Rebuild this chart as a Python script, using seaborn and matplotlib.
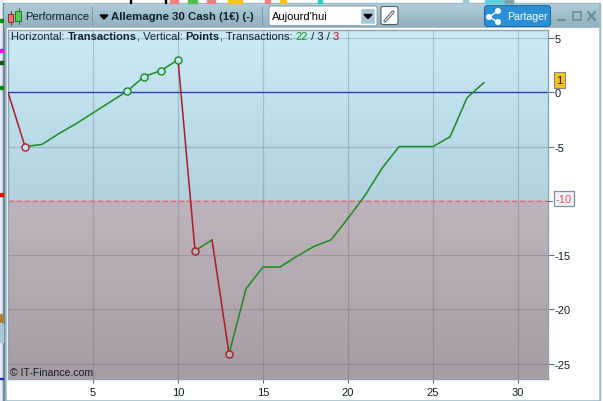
import matplotlib
matplotlib.use("Agg")
import matplotlib.pyplot as plt
from matplotlib.colors import LinearSegmentedColormap
from matplotlib.patches import Rectangle, FancyBboxPatch, Polygon, Circle
import numpy as np
import pandas as pd
import seaborn as sns

# equity curve
transactions = list(range(0, 29))
points = [0, -5, -4.8, -3.8, -2.9, -1.9, -0.9, 0.1, 1.45, 2, 3, -14.6, -13.6, -24.1, -18.1,
          -16.1, -16.1, -15.1, -14.2, -13.6, -11.6, -9.5, -7, -5, -5, -5, -4.1, -0.5, 0.9]
green_marks = [7, 8, 9, 10]
red_marks = [1, 11, 13]
x_ticks = [5, 10, 15, 20, 25, 30]
y_ticks = [5, 0, -5, -15, -20, -25]
threshold = -10

W, H = 603, 402
GREEN = "#1c8a24"
RED = "#a81c28"
INK = "#10202c"

sns.set_theme(style="white")
plt.rcParams["font.family"] = ["Liberation Sans", "DejaVu Sans"]

fig = plt.figure(figsize=(W / 100, H / 100), dpi=100, facecolor="white")


def box(l, t, r, b):
    return [l / W, 1 - b / H, (r - l) / W, (b - t) / H]


# window chrome drawn in pixel coordinates
bg = fig.add_axes([0, 0, 1, 1], zorder=0)
bg.axis("off")
bg.add_patch(Rectangle((0, 0), 3, H, color="#e6ecf8"))
bg.add_patch(Rectangle((3, 4), 597, 398, color="#9dbcc9", zorder=1))
bg.add_patch(Rectangle((3, 4), 1, 398, color="#6f8a98", zorder=1))
bg.imshow(np.linspace(0, 1, 30)[:, None], extent=(4, 599, 29, 5), aspect="auto",
          cmap=LinearSegmentedColormap.from_list("bar", ["#b0ccd8", "#8fb0bf"]), zorder=1)
bg.add_patch(Rectangle((7, 29), 591, 371, color="white", zorder=1))
bg.set_xlim(0, W)
bg.set_ylim(H, 0)

# bits of the chart behind the window
for y, c in [(21, "#0a8a0a"), (51, "#ff00ff"), (63, "#0a5a0a"), (88, "#0a8a0a"), (195, "#ff0000")]:
    bg.add_patch(Rectangle((0, y - 1), 3, 2.5, color=c, zorder=2))
bg.add_patch(Rectangle((0, 315), 3, 8, color="#b08040", zorder=2))
bg.add_patch(Rectangle((0, 325), 3, 18, color="#a9c6d3", zorder=2))
bg.add_patch(Rectangle((0, 379), 3, 1, color="#2030b0", zorder=2))
for x, w, c in [(130, 1, "black"), (165, 1, "black"), (170, 8, "#f08080"), (188, 9, "#50c050"),
                (207, 8, "#f08080"), (228, 14, "#f5c518"), (265, 5, "#f08080"), (280, 6, "#f5c518"),
                (318, 4, "#30c8c8"), (463, 5, "#a0c8d0"), (485, 28, "#60d0d8"), (505, 8, "#80a0a8")]:
    bg.add_patch(Rectangle((x, 0), w, 4, color=c, zorder=2))

# candle icon
bg.plot([10.5, 10.5], [12, 26], color="#803030", lw=0.7, zorder=3)
bg.plot([18.5, 18.5], [9, 25], color="#207020", lw=0.7, zorder=3)
bg.add_patch(Rectangle((8, 15), 5, 8, fc="#f07070", ec="#803030", lw=0.7, zorder=3))
bg.add_patch(Rectangle((15, 12), 6, 10, fc="#50d050", ec="#207020", lw=0.7, zorder=3))
bg.text(25, 17.5, "Performance", fontsize=8, color=INK, va="center", zorder=3)
bg.plot([91.5, 91.5], [8, 26], color="#7f9aa8", lw=0.8, zorder=3)
bg.add_patch(Polygon([[100, 16], [108, 16], [104, 20]], color="black", zorder=3))
bg.text(111, 17.5, "Allemagne 30 Cash (1\u20ac) (-)", fontsize=8.2, weight="bold", color=INK,
        va="center", zorder=3)
bg.plot([262, 262], [8, 26], color="#7f9aa8", lw=0.8, zorder=3)
bg.add_patch(FancyBboxPatch((269, 7), 108, 19.5, boxstyle="round,pad=0,rounding_size=2",
                            fc="white", ec="#8aa4b0", lw=0.8, zorder=3))
bg.text(272, 17.5, "Aujourd'hui", fontsize=8, color="black", va="center", zorder=3)
bg.add_patch(Rectangle((360, 9), 15, 16, fc="#a9c6d3", zorder=3))
bg.add_patch(Polygon([[364, 15.5], [372, 15.5], [368, 19.5]], color="black", zorder=3))
bg.add_patch(FancyBboxPatch((381, 7.5), 17, 18, boxstyle="round,pad=0,rounding_size=2",
                            fc="white", ec="#50606a", lw=0.8, zorder=3))
bg.plot([385, 393], [22, 13], color="#404a50", lw=2.2, zorder=4)
bg.plot([385, 393], [22, 13], color="white", lw=0.9, zorder=4)
bg.add_patch(FancyBboxPatch((484.5, 6.5), 66, 21, boxstyle="round,pad=0,rounding_size=3",
                            fc="#2b8fd6", ec="#1c70b0", lw=0.8, zorder=3))
bg.plot([498, 489, 498], [12, 18, 23], color="white", lw=1, zorder=4)
for cx, cy in [(498, 12), (489, 18), (498, 23)]:
    bg.add_patch(Circle((cx, cy), 2.3, color="white", zorder=4))
bg.text(507, 17.5, "Partager", fontsize=7.6, color="white", va="center", zorder=4)
bg.plot([558, 565], [21, 21], color="#6f8a98", lw=1.6, zorder=3)
bg.add_patch(Rectangle((572.5, 13), 8, 8, fc="none", ec="#6f8a98", lw=1.2, zorder=3))
bg.plot([588, 595], [13, 21], color="#6f8a98", lw=1.6, zorder=3)
bg.plot([588, 595], [21, 13], color="#6f8a98", lw=1.6, zorder=3)

# plot area
ax = fig.add_axes(box(8, 31, 548, 380), zorder=2)
x_max, y_top, y_bottom = 31.76, 5.74, -26.42

blue = LinearSegmentedColormap.from_list("blue", ["#cbe9f7", "#b2d2df"])
mauve = LinearSegmentedColormap.from_list("mauve", ["#bfb3bd", "#a89ca4"])
ax.imshow(np.linspace(0, 1, 64)[:, None], extent=(0, x_max, threshold, y_top), cmap=blue,
          aspect="auto", zorder=0)
ax.imshow(np.linspace(0, 1, 64)[:, None], extent=(0, x_max, y_bottom, threshold), cmap=mauve,
          aspect="auto", zorder=0)
ax.set_xlim(0, x_max)
ax.set_ylim(y_bottom, y_top)

for v in x_ticks:
    ax.axvline(v, color="#5a6a78", alpha=0.3, lw=0.9, zorder=1)
for v in y_ticks:
    ax.axhline(v, color="#5a6a78", alpha=0.3, lw=0.9, zorder=1)
ax.axhline(threshold, color="#dd6670", lw=0.9, ls=(0, (4, 2.5)), zorder=2)
ax.axhline(0, color="#2438a8", lw=0.9, zorder=2)

# rising runs in green, falling runs in red
df = pd.DataFrame({"x": transactions, "y": points})
run_start = 0
for i in range(1, len(df)):
    last = i == len(df) - 1
    if last or (points[i + 1] < points[i]) != (points[i] < points[i - 1]):
        color = RED if points[i] < points[i - 1] else GREEN
        sns.lineplot(data=df.iloc[run_start:i + 1], x="x", y="y", color=color, lw=1.1, ax=ax,
                     zorder=3, estimator=None, sort=False)
        run_start = i

for i in green_marks + red_marks:
    face = "#c5e5f3" if points[i] > threshold else "#b9adb7"
    edge = GREEN if i in green_marks else RED
    sns.scatterplot(x=[i], y=[points[i]], ax=ax, s=26, marker="o", color=face,
                    edgecolor=edge, linewidth=1, zorder=4)

ax.set_xlabel("")
ax.set_ylabel("")
ax.set_xticks(x_ticks)
ax.yaxis.tick_right()
ax.set_yticks(y_ticks)
ax.set_yticklabels([str(v) for v in y_ticks])
ax.tick_params(axis="x", length=3, width=0.8, color="#60707a", labelsize=8, pad=3, labelcolor=INK, bottom=True)
ax.tick_params(axis="y", length=4, width=0.8, color="#60707a", labelsize=8, pad=1, labelcolor=INK, right=True)
for s in ax.spines.values():
    s.set_color("#8ea4b0")
    s.set_linewidth(1)

# status line and copyright, inside the plot
parts = [("Horizontal: ", "normal", INK), ("Transactions", "bold", INK), (", Vertical: ", "normal", INK),
         ("Points", "bold", INK), (", Transactions: ", "normal", INK), ("22", "normal", "#0a9a20"),
         (" / 3 / ", "normal", INK), ("3", "normal", "#c01020")]
fig.canvas.draw()
renderer = fig.canvas.get_renderer()
px = 11.0
for s, weight, c in parts:
    t = fig.text(px / W, 1 - 36.5 / H, s, fontsize=8, weight=weight, color=c, va="center", zorder=5)
    px += t.get_window_extent(renderer).width
ax.text(0.003, 0.02, "\u00a9 IT-Finance.com", transform=ax.transAxes, fontsize=7.6, va="center", color=INK)

# value flags on the right axis
fg = fig.add_axes([0, 0, 1, 1], zorder=3)
fg.set_xlim(0, W)
fg.set_ylim(H, 0)
fg.axis("off")
fg.patch.set_alpha(0)
fg.add_patch(Rectangle((553.5, 72.5), 11, 16, fc="#f5c518", ec="#808890", lw=0.8))
fg.text(559, 81, "1", fontsize=8, ha="center", va="center", color="#301000")
fg.add_patch(Rectangle((553.5, 191.5), 20, 15.5, fc="#f2f4f4", ec="#7f929c", lw=0.9))
fg.text(563.5, 200, "-10", fontsize=8, ha="center", va="center", color="#e0506a")
fg.plot([548, 552], [201.5, 201.5], color="#60707a", lw=0.8)

fig.savefig("out.png", dpi=100)
